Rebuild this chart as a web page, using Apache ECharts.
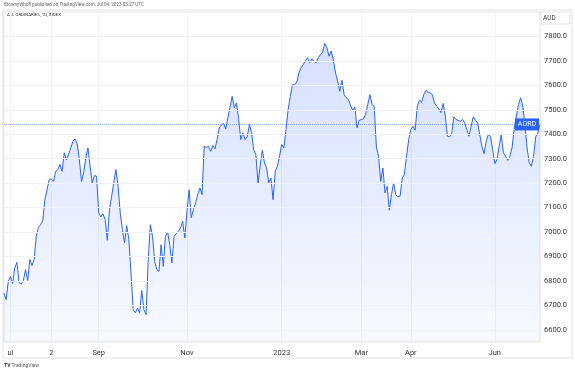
<!DOCTYPE html>
<html><head><meta charset="utf-8">
<script src="https://cdn.jsdelivr.net/npm/echarts@6/dist/echarts.min.js"></script>
<style>html,body{margin:0;padding:0;background:#fff}#c{width:575px;height:373px}</style>
</head><body><div id="c"></div>
<script>
// Daily closes, ALL ORDINARIES (AORD), Jul 2022 - Jul 2023
const closes = [
6750,6723,6798,6818,6789,6853,6876,6794,6787,6801,
6846,6802,6887,6863,6887,6982,7019,7030,
7046,7132,7173,7214,7217,7207,7248,7255,7276,
7248,7324,7296,7317,7344,7371,7381,7362,7296,
7207,7242,7303,7344,7269,7201,7231,7228,7078,7062,
7074,7051,6966,7092,7146,7201,7255,7187,7078,
7010,6955,7026,6969,6832,6682,6669,6689,6669,6761,
6682,6662,6887,7030,6982,6880,6846,6839,
6948,6859,6982,7000,6948,6873,6982,6993,7003,7017,
7044,6976,7085,7173,7058,7092,7119,7153,7180,7153,
7351,7345,7351,7330,7354,7340,7378,7426,7438,7444,7422,
7467,7510,7555,7508,7528,7463,7378,7406,7378,7389,7440,
7406,7337,7317,7201,7270,7334,7283,7262,7201,7221,7132,
7248,7269,7310,7358,7344,7419,7501,7555,7603,7603,7613,
7651,7672,7685,7700,7713,7692,7709,7699,7692,7713,7725,7736,
7771,7754,7719,7740,7703,7651,7617,7576,7621,
7562,7549,7542,7517,7498,7512,7426,7457,7460,7463,
7481,7522,7562,7522,7512,7348,7310,7207,7262,7160,
7187,7089,7153,7201,7153,7144,7146,7221,7235,7310,
7378,7419,7433,7416,7515,7539,7531,7562,7579,
7572,7569,7562,7528,7515,7504,7488,7526,7474,7392,
7389,7406,7471,7460,7457,7453,7460,7447,7419,7392,
7433,7471,7457,7447,7399,7351,7320,7371,7399,7392,
7337,7280,7296,7348,7399,7324,7310,7293,7310,
7344,7419,7474,7522,7549,7515,7440,7344,7283,
7269,7310,7389,7406,7440
];
const tickIdx = [3, 22, 44, 85, 129, 166, 189, 228];
const tickText = ['ul', '2', 'Sep', 'Nov', '2023', 'Mar', 'Apr', 'Jun'];
const priceLevels = [6600, 6700, 6800, 6900, 7000, 7100, 7200, 7300, 7400, 7500, 7600, 7700, 7800];
const symbolName = 'AORD';
const currency = 'AUD';
const headerText = 'BrownyWho8 published on TradingView.com, Jul 04, 2023 03:27 UTC';
const titleText = 'ALL ORDINARIES, 1D, INDEX';
const brandText = 'TradingView';

const categories = closes.map((_, i) => i);
const lastVal = closes[closes.length - 1];
const FONT = 'Roboto, "Noto Sans", sans-serif';

const chart = echarts.init(document.getElementById('c'), null, {renderer: 'canvas'});
chart.setOption({
  animation: false,
  backgroundColor: '#ffffff',
  grid: {left: 4, right: 35, top: 12, bottom: 31, show: true, borderColor: '#e0e3eb', borderWidth: 1},
  xAxis: {
    type: 'category', data: categories, boundaryGap: false,
    axisLine: {show: false}, axisTick: {show: false},
    axisLabel: {
      interval: (i) => tickIdx.includes(i),
      formatter: (v) => { const k = tickIdx.indexOf(Number(v)); return k >= 0 ? tickText[k] : ''; },
      fontSize: 7.5, color: '#333', margin: 7, fontFamily: FONT
    },
    splitLine: {show: true, interval: (i) => tickIdx.includes(i), lineStyle: {color: '#f0f3fa', width: 1}}
  },
  yAxis: {
    type: 'value', position: 'right', min: 6550, max: 7900, interval: 50,
    axisLine: {show: false}, axisTick: {show: false}, splitLine: {show: false},
    axisLabel: {
      formatter: (v) => priceLevels.includes(v) ? v.toFixed(1) : '',
      fontSize: 7.5, color: '#333', margin: 4, fontFamily: FONT
    }
  },
  series: [
    {
      type: 'line', data: closes, z: 1, silent: true, symbol: 'none',
      lineStyle: {opacity: 0},
      markLine: {silent: true, symbol: 'none', label: {show: false}, animation: false,
        lineStyle: {color: '#eef1f6', type: 'solid', width: 1},
        data: priceLevels.map(v => ({yAxis: v}))}
    },
    {
      type: 'line', data: closes, z: 2, symbol: 'none', smooth: false,
      lineStyle: {color: '#2962ff', width: 1},
      areaStyle: {color: new echarts.graphic.LinearGradient(0, 0, 0, 1, [
        {offset: 0, color: 'rgba(41,98,255,0.28)'},
        {offset: 1, color: 'rgba(41,98,255,0.05)'}])},
      markLine: {silent: true, symbol: 'none', label: {show: false}, animation: false,
        lineStyle: {color: 'rgba(41,98,255,0.45)', type: 'dotted', width: 1},
        data: [{yAxis: lastVal}]},
      markPoint: {
        symbol: 'rect', symbolSize: [24, 12], symbolOffset: [-13, 0], animation: false,
        itemStyle: {color: '#2962ff'},
        label: {show: true, formatter: symbolName, color: '#fff', fontSize: 7, fontFamily: FONT},
        data: [{coord: [closes.length - 1, lastVal]}]
      }
    }
  ],
  graphic: [
    {type: 'rect', silent: true, z: -10, shape: {x: 3, y: 10, width: 569, height: 348},
      style: {fill: 'none', stroke: '#e0e3eb', lineWidth: 1}},
    {type: 'text', left: 4, top: 2, style: {text: headerText, fontSize: 4.6, fill: '#666', fontFamily: FONT}},
    {type: 'text', left: 7, top: 13, style: {text: titleText, fontSize: 4.3, fill: '#333', fontFamily: FONT}},
    {type: 'rect', shape: {x: 541, y: 12, width: 29, height: 12}, z: 100,
      style: {fill: '#fff', stroke: '#e0e3eb', lineWidth: 1}},
    {type: 'text', left: 543, top: 14.5, z: 101, style: {text: currency, fontSize: 6.5, fill: '#333', fontFamily: FONT}},
    {type: 'text', left: 4, top: 363, style: {text: 'TV', fontSize: 5, fontWeight: 'bold', fill: '#333', fontFamily: FONT}},
    {type: 'text', left: 11.5, top: 363, style: {text: brandText, fontSize: 5, fill: '#555', fontFamily: FONT}}
  ]
});
</script>
</body></html>
